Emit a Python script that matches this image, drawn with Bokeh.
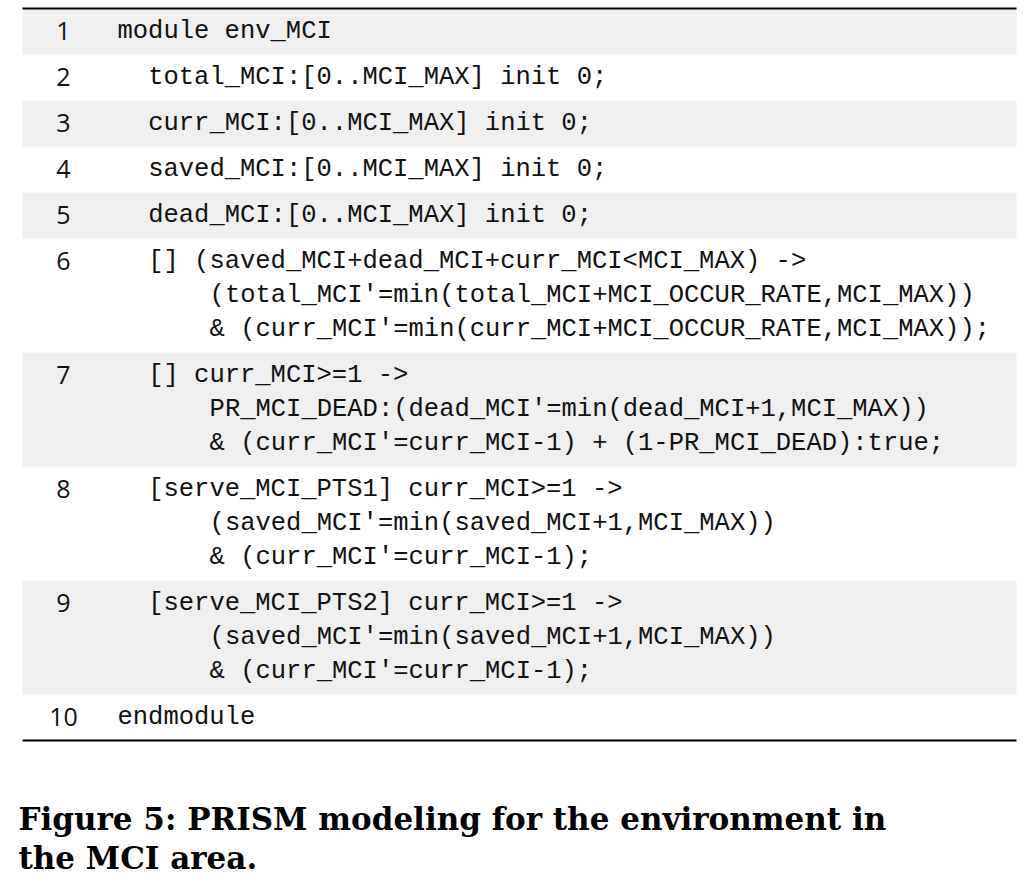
from bokeh.core.properties import value
from bokeh.embed import file_html
from bokeh.models import Range1d
from bokeh.plotting import figure
from bokeh.resources import INLINE

# listing rows: each entry is the lines of one numbered row
rows = [
    ["module env_MCI"],
    ["  total_MCI:[0..MCI_MAX] init 0;"],
    ["  curr_MCI:[0..MCI_MAX] init 0;"],
    ["  saved_MCI:[0..MCI_MAX] init 0;"],
    ["  dead_MCI:[0..MCI_MAX] init 0;"],
    ["  [] (saved_MCI+dead_MCI+curr_MCI<MCI_MAX) ->",
     "      (total_MCI'=min(total_MCI+MCI_OCCUR_RATE,MCI_MAX))",
     "      & (curr_MCI'=min(curr_MCI+MCI_OCCUR_RATE,MCI_MAX));"],
    ["  [] curr_MCI>=1 ->",
     "      PR_MCI_DEAD:(dead_MCI'=min(dead_MCI+1,MCI_MAX))",
     "      & (curr_MCI'=curr_MCI-1) + (1-PR_MCI_DEAD):true;"],
    ["  [serve_MCI_PTS1] curr_MCI>=1 ->",
     "      (saved_MCI'=min(saved_MCI+1,MCI_MAX))",
     "      & (curr_MCI'=curr_MCI-1);"],
    ["  [serve_MCI_PTS2] curr_MCI>=1 ->",
     "      (saved_MCI'=min(saved_MCI+1,MCI_MAX))",
     "      & (curr_MCI'=curr_MCI-1);"],
    ["endmodule"],
]
caption = ["Figure 5: PRISM modeling for the environment in", "the MCI area."]

W, H = 1018, 869
TOP, LEFT, RIGHT = 8, 22, 1016
ROW_H, LINE_H = 46, 34
CODE_X, NUM_X = 117, 63
CHAR_W = 15.35

p = figure(width=W, height=H, output_backend="svg", toolbar_location=None,
           x_range=Range1d(0, W), y_range=Range1d(H, 0), min_border=0)
p.axis.visible = False
p.grid.visible = False
p.outline_line_color = None
p.background_fill_color = "white"

y = TOP
tops, bottoms, nums, nys = [], [], [], []
lx, ly, lt = [], [], []
for i, lines in enumerate(rows):
    h = ROW_H + LINE_H * (len(lines) - 1)
    tops.append(y)
    bottoms.append(y + h)
    nums.append(str(i + 1))
    first = y + ROW_H / 2
    nys.append(first - 1)
    for j, s in enumerate(lines):
        stripped = s.lstrip(" ")
        lx.append(CODE_X + CHAR_W * (len(s) - len(stripped)))
        ly.append(first + j * LINE_H)
        lt.append(stripped)
    y += h

shade = [k for k in range(len(rows)) if k % 2 == 0]
p.quad(left=LEFT, right=RIGHT, top=[tops[k] for k in shade],
       bottom=[bottoms[k] for k in shade], fill_color="#efefef", line_color=None)
p.segment(x0=LEFT, x1=RIGHT, y0=[TOP, y], y1=[TOP, y], line_color="black", line_width=2)

p.text(x=NUM_X, y=nys, text=nums, text_font=value("Open Sans"), text_font_size="25px",
       text_align="center", text_baseline="middle", text_color="#111111")
p.text(x=lx, y=ly, text=lt, text_font=value("Liberation Mono"), text_font_size="25.5px",
       text_align="left", text_baseline="middle", text_color="#111111")
p.text(x=18, y=[818, 857], text=caption, text_font=value("DejaVu Serif"),
       text_font_size="31px", text_font_style="bold", text_baseline="middle",
       text_color="black")

open("out.html", "w").write(file_html(p, INLINE))
